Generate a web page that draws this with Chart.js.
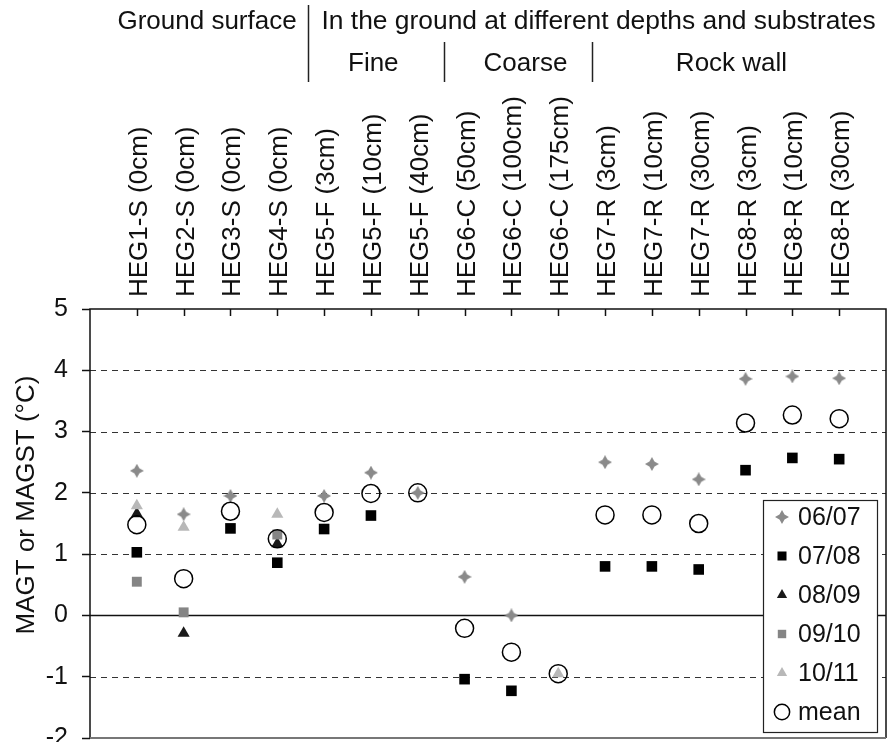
<!DOCTYPE html>
<html><head><meta charset="utf-8">
<script src="https://cdn.jsdelivr.net/npm/chart.js@4.4.0/dist/chart.umd.min.js"></script>
<style>html,body{margin:0;padding:0;background:#fff;} #wrap{width:890px;height:742px;}</style>
</head><body><div id="wrap"><canvas id="c" width="890" height="742"></canvas></div>
<script>
const categories = ['HEG1-S (0cm)','HEG2-S (0cm)','HEG3-S (0cm)','HEG4-S (0cm)','HEG5-F (3cm)','HEG5-F (10cm)','HEG5-F (40cm)','HEG6-C (50cm)','HEG6-C (100cm)','HEG6-C (175cm)','HEG7-R (3cm)','HEG7-R (10cm)','HEG7-R (30cm)','HEG8-R (3cm)','HEG8-R (10cm)','HEG8-R (30cm)'];
const yMin = -2, yMax = 5;
const s0607 = [2.36, 1.65, 1.95, null, 1.95, 2.33, 2.00, 0.63, 0.00, null, 2.50, 2.47, 2.22, 3.86, 3.90, 3.87];
const s0708 = [1.03, null, 1.42, 0.86, 1.41, 1.63, null, -1.04, -1.23, null, 0.80, 0.80, 0.75, 2.37, 2.57, 2.55];
const s0809 = [1.66, -0.29, null, 1.17, null, null, null, null, null, null, null, null, null, null, null, null];
const s0910 = [0.55, 0.05, null, 1.32, null, null, null, null, null, null, null, null, null, null, null, null];
const s1011 = [1.79, 1.44, null, 1.65, null, null, null, null, null, -0.95, null, null, null, null, null, null];
const sMean = [1.48, 0.60, 1.70, 1.25, 1.68, 1.99, 2.00, -0.21, -0.60, -0.95, 1.64, 1.64, 1.50, 3.14, 3.27, 3.21];
const seriesNames = ['06/07','07/08','08/09','09/10','10/11','mean'];
const headerTop = ['Ground surface','In the ground at different depths and substrates'];
const headerSub = ['Fine','Coarse','Rock wall'];
const yTitle = 'MAGT or MAGST (°C)';

const FONT = "'Liberation Sans', Arial, sans-serif";

function starCanvas(size, color){
  const c = document.createElement('canvas');
  c.width = size; c.height = size;
  const g = c.getContext('2d');
  const m = size/2, r = size/2, q = size*0.18;
  g.fillStyle = color;
  g.beginPath();
  g.moveTo(m, m-r); g.lineTo(m+q, m-q); g.lineTo(m+r, m); g.lineTo(m+q, m+q);
  g.lineTo(m, m+r); g.lineTo(m-q, m+q); g.lineTo(m-r, m); g.lineTo(m-q, m-q);
  g.closePath(); g.fill();
  return c;
}
const star = starCanvas(14, '#8a8a8a');

function pts(arr){ return arr.map((v,i)=> v===null?null:{x:i+1,y:v}).filter(p=>p); }

const datasets = [
  {label: seriesNames[0], data: pts(s0607), pointStyle: star, pointRadius: 7, backgroundColor:'#8a8a8a', borderColor:'#8a8a8a', borderWidth:0, order:5},
  {label: seriesNames[1], data: pts(s0708), pointStyle: 'rect', pointRadius: 7.5, backgroundColor:'#000', borderColor:'#000', borderWidth:0, order:4},
  {label: seriesNames[2], data: pts(s0809), pointStyle: 'triangle', pointRadius: 7, backgroundColor:'#1a1a1a', borderColor:'#1a1a1a', borderWidth:0, order:3},
  {label: seriesNames[3], data: pts(s0910), pointStyle: 'rect', pointRadius: 7, backgroundColor:'#858585', borderColor:'#858585', borderWidth:0, order:2},
  {label: seriesNames[4], data: pts(s1011), pointStyle: 'triangle', pointRadius: 7, backgroundColor:'#b8b8b8', borderColor:'#b8b8b8', borderWidth:0, order:1},
  {label: seriesNames[5], data: pts(sMean), pointStyle: 'circle', pointRadius: 9, backgroundColor:'rgba(0,0,0,0)', borderColor:'#000', borderWidth:1.5, order:0}
];

const decor = {
  id: 'decor',
  beforeDatasetsDraw(chart){
    const {ctx, chartArea: a, scales: {x, y}} = chart;
    ctx.save();
    for (let v = yMin; v <= yMax; v++) {
      if (v === yMin || v === yMax) continue;
      const py = Math.round(y.getPixelForValue(v)) + 0.5;
      ctx.beginPath();
      if (v === 0) { ctx.setLineDash([]); ctx.lineWidth = 1.5; ctx.strokeStyle = '#111'; }
      else { ctx.setLineDash([6,5]); ctx.lineWidth = 1.2; ctx.strokeStyle = '#333'; }
      ctx.moveTo(a.left, py); ctx.lineTo(a.right, py); ctx.stroke();
    }
    ctx.setLineDash([]);
    ctx.strokeStyle = '#111'; ctx.lineWidth = 1.5;
    ctx.beginPath();
    ctx.moveTo(a.left, a.bottom); ctx.lineTo(a.left, a.top); ctx.lineTo(a.right, a.top); ctx.lineTo(a.right, a.bottom);
    ctx.stroke();
    ctx.strokeStyle = '#777'; ctx.lineWidth = 2;
    ctx.beginPath(); ctx.moveTo(a.left, a.bottom); ctx.lineTo(a.right, a.bottom); ctx.stroke();
    ctx.strokeStyle = '#111'; ctx.lineWidth = 1.5;
    for (let i = 1; i <= categories.length; i++) {
      const px = Math.round(x.getPixelForValue(i)) + 0.5;
      ctx.beginPath(); ctx.moveTo(px, a.top); ctx.lineTo(px, a.top + 7); ctx.stroke();
    }
    ctx.restore();
  },
  afterDraw(chart){
    const {ctx, scales: {x}} = chart;
    ctx.save();
    ctx.fillStyle = '#111';
    ctx.font = '26px ' + FONT;
    ctx.textBaseline = 'alphabetic';
    ctx.strokeStyle = '#222'; ctx.lineWidth = 1.5;
    const sep0 = Math.round(x.getPixelForValue(4.65)) + 0.5;
    const sep1 = Math.round(x.getPixelForValue(7.55)) + 0.5;
    const sep2 = Math.round(x.getPixelForValue(10.72)) + 0.5;
    ctx.beginPath(); ctx.moveTo(sep0, 5); ctx.lineTo(sep0, 82); ctx.stroke();
    ctx.beginPath(); ctx.moveTo(sep1, 42); ctx.lineTo(sep1, 82); ctx.stroke();
    ctx.beginPath(); ctx.moveTo(sep2, 42); ctx.lineTo(sep2, 82); ctx.stroke();
    ctx.textAlign = 'center';
    ctx.fillText(headerTop[0], x.getPixelForValue(2.5), 29);
    ctx.textAlign = 'left';
    ctx.font = '26.4px ' + FONT;
    ctx.fillText(headerTop[1], sep0 + 13, 29);
    ctx.font = '26px ' + FONT;
    ctx.textAlign = 'center';
    ctx.fillText(headerSub[0], x.getPixelForValue(6.05), 71);
    ctx.fillText(headerSub[1], x.getPixelForValue(9.3), 71);
    ctx.fillText(headerSub[2], x.getPixelForValue(13.7), 71);
    ctx.save();
    ctx.translate(27, 505);
    ctx.rotate(-Math.PI / 2);
    ctx.textAlign = 'center'; ctx.textBaseline = 'middle';
    ctx.fillText(yTitle, 0, 0);
    ctx.restore();
    const bx = 763, by = 500, bw = 114, bh = 232;
    ctx.fillStyle = '#fff';
    ctx.fillRect(bx, by, bw, bh);
    ctx.strokeStyle = '#222'; ctx.lineWidth = 1.2;
    ctx.strokeRect(bx + 0.5, by + 0.5, bw, bh);
    chart.data.datasets.forEach((ds, i) => {
      const cy = by + 17 + i * 39;
      ctx.fillStyle = ds.backgroundColor; ctx.strokeStyle = ds.borderColor; ctx.lineWidth = ds.borderWidth;
      Chart.helpers.drawPoint(ctx, {pointStyle: ds.pointStyle, radius: ds.pointRadius * 0.85, rotation: 0, borderWidth: ds.borderWidth}, bx + 19, cy);
      ctx.fillStyle = '#111'; ctx.textAlign = 'left'; ctx.textBaseline = 'middle';
      ctx.font = '25px ' + FONT;
      ctx.fillText(ds.label, bx + 35, cy + 1);
    });
    ctx.restore();
  }
};

new Chart(document.getElementById('c'), {
  type: 'scatter',
  data: { datasets },
  options: {
    responsive: false,
    animation: false,
    events: [],
    layout: { autoPadding: false, padding: { left: 0, right: 4, top: 0, bottom: 4 } },
    plugins: { legend: { display: false }, tooltip: { enabled: false } },
    scales: {
      x: {
        type: 'linear', position: 'top', min: 0, max: categories.length + 1,
        afterBuildTicks(scale){ scale.ticks = Array.from({length: categories.length + 2}, (_, i) => ({value: i})); },
        afterFit(scale){ scale.height = 309; scale.paddingLeft = 0; scale.paddingRight = 0; },
        ticks: {
          autoSkip: false, minRotation: 90, maxRotation: 90, padding: 12, labelOffset: 34,
          font: { size: 26, family: FONT }, color: '#111',
          callback: (v) => categories[v - 1] || ''
        },
        grid: { drawOnChartArea: false, drawTicks: false },
        border: { display: false }
      },
      y: {
        min: yMin, max: yMax,
        afterBuildTicks(scale){ const t=[]; for (let v=yMin; v<=yMax; v++) t.push({value:v}); scale.ticks = t; },
        afterFit(scale){ scale.width = 90; scale.paddingTop = 0; scale.paddingBottom = 0; },
        ticks: { padding: 14, font: { size: 25, family: FONT }, color: '#111' },
        grid: { drawOnChartArea: false, drawTicks: true, tickLength: 8, tickColor: '#111', tickWidth: 1.5 },
        border: { display: false },
        title: { display: false }
      }
    }
  },
  plugins: [decor]
});
</script></body></html>
